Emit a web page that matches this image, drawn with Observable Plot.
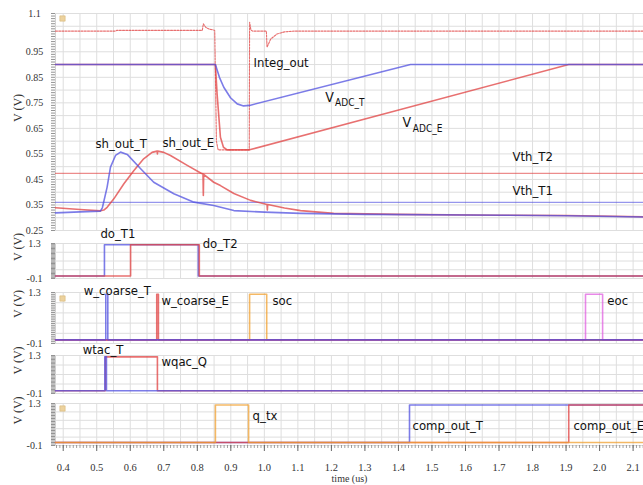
<!DOCTYPE html>
<html>
<head>
<meta charset="utf-8">
<script src="https://cdn.jsdelivr.net/npm/d3@7"></script>
<script src="https://cdn.jsdelivr.net/npm/@observablehq/plot@0.6"></script>
<style>
  body { margin: 0; background: #fff; }
  #chart { position: relative; width: 643px; height: 485px; overflow: hidden; background: #fff; }
  #chart svg { position: absolute; left: 0; }
</style>
</head>
<body>
<div id="chart"></div>
<script>
// ---- time axis (µs) ----
const xTicks = [0.4, 0.5, 0.6, 0.7, 0.8, 0.9, 1.0, 1.1, 1.2, 1.3, 1.4, 1.5, 1.6, 1.7, 1.8, 1.9, 2.0, 2.1];
const topTicks = [1.1, 0.95, 0.85, 0.75, 0.65, 0.55, 0.45, 0.35, 0.25];
const digitalTicks = [1.3, -0.1];

// ---- analog traces, [time µs, volts] ----
const vadcT = [[0.377,0.9],[0.854,0.9],[0.866,0.85],[0.879,0.811],[0.899,0.77],[0.919,0.746],[0.938,0.738],[0.956,0.74],[1.436,0.9],[2.131,0.9]];
const vadcE = [[0.377,0.9],[0.854,0.9],[0.859,0.785],[0.869,0.615],[0.878,0.576],[0.889,0.566],[0.956,0.566],[1.908,0.9],[2.131,0.9]];
const integOut = [[0.377,1.031],[0.555,1.031],[0.56,1.034],[0.815,1.034],[0.818,1.06],[0.825,1.046],[0.835,1.039],[0.85,1.035],[0.852,1.033],[0.857,0.6],[0.862,0.566],[0.955,0.566],[0.956,1.066],[0.96,1.035],[0.965,1.031],[1.006,1.031],[1.008,0.968],[1.019,1.0],[1.038,1.02],[1.06,1.028],[1.09,1.031],[2.131,1.031]];
const shOutT = [[0.377,0.319],[0.45,0.323],[0.511,0.326],[0.517,0.34],[0.531,0.42],[0.541,0.498],[0.556,0.544],[0.571,0.557],[0.591,0.548],[0.631,0.492],[0.67,0.439],[0.73,0.394],[0.79,0.361],[0.849,0.348],[0.909,0.328],[1.0,0.322],[1.108,0.317],[1.3,0.313],[1.6,0.311],[1.9,0.308],[2.131,0.303]];
const shOutE = [[0.377,0.339],[0.45,0.332],[0.511,0.327],[0.521,0.33],[0.531,0.341],[0.551,0.374],[0.581,0.433],[0.611,0.485],[0.64,0.531],[0.665,0.556],[0.68,0.561],[0.681,0.55],[0.682,0.561],[0.7,0.556],[0.72,0.544],[0.77,0.505],[0.81,0.475],[0.817,0.471],[0.818,0.387],[0.819,0.47],[0.849,0.439],[0.869,0.426],[0.909,0.395],[0.959,0.368],[1.008,0.352],[1.009,0.33],[1.01,0.352],[1.06,0.338],[1.108,0.328],[1.207,0.317],[1.4,0.313],[1.7,0.31],[1.9,0.309],[2.131,0.304]];
const vthT2 = 0.474;
const vthT1 = 0.36;

// ---- digital signals: edge times (µs), starting low ----
const logicLow = 0, logicHigh = 1.25;
const doT1 = [0.523, 0.803];
const doT2 = [0.601, 0.806];
const wCoarseT = [0.527, 0.533];
const wCoarseE = [0.679, 0.684];
const soc = [0.956, 1.007];
const eoc = [1.958, 2.009];
const wtacT = [0.524, 0.529];
const wqacQ = [0.526, 0.681];
const qTx = [0.854, 0.953];
const compOutT = [1.433];
const compOutE = [1.908];

const X0 = 0.377, X1 = 2.131;
const BLUE = "#5050e0", RED = "#e04040", ORANGE = "#f0a030", MAGENTA = "#e060e0";
const SANS = "'Liberation Sans Narrow', 'DejaVu Sans Condensed', 'Liberation Sans', Arial, sans-serif";
const SERIF = "'Liberation Serif', 'Times New Roman', serif";

const pts = a => a.map(([t, v]) => ({t, v}));
function steps(edges) {
  const out = [{t: X0, v: logicLow}];
  let level = logicLow;
  for (const e of edges) { level = level === logicLow ? logicHigh : logicLow; out.push({t: e, v: level}); }
  out.push({t: X1, v: level});
  return out;
}

const gridX = d3.range(8, 43).map(i => i * 0.05);

function panel({top, height, marginTop, marginBottom, yDomain, ticks, gridY, minorY, lock, marks, bottomAxis}) {
  const base = [
    Plot.ruleX(gridX, {stroke: "#dedede", strokeWidth: 1}),
    Plot.ruleX([X0], {stroke: "#d0d0d0"}),
    Plot.ruleY(gridY, {stroke: "#dedede", strokeWidth: 1}),
    Plot.axisY(minorY, {anchor: "left", tickSize: 4, tickFormat: () => "", stroke: "#777", strokeWidth: 0.8}),
    Plot.text(ticks, {y: d => d, text: d => String(d), frameAnchor: "left", dx: -21, textAnchor: "middle", fontSize: 10, fontFamily: SERIF, fill: "#333"}),
    Plot.text(["V (V)"], {frameAnchor: "left", dx: -37, rotate: -90, fontSize: 12, fontFamily: SERIF, fill: "#333"})
  ];
  if (lock != null) base.push(Plot.dot([0], {frameAnchor: "top-left", dx: 7, dy: lock, symbol: "square", r: 3, fill: "#ecd29e", stroke: "#d8b878", strokeWidth: 0.6}));
  const svg = Plot.plot({
    width: 643, height, marginLeft: 55, marginRight: 0, marginTop, marginBottom,
    x: {domain: [X0, X1], label: null},
    y: {domain: yDomain, label: null},
    style: {background: "transparent", overflow: "visible"},
    marks: [...base, ...marks, ...(bottomAxis || [Plot.axisX({ticks: []})])]
  });
  svg.style.top = top + "px";
  document.getElementById("chart").appendChild(svg);
}

const lineOpts = (stroke, extra = {}) => ({x: "t", y: "v", stroke, strokeWidth: 1.6, strokeOpacity: 0.75, ...extra});
const stepOpts = (stroke) => ({x: "t", y: "v", stroke, strokeWidth: 1.6, strokeOpacity: 0.75, curve: "step-after"});
const label = (text, t, v, size = 13) => Plot.text([text], {x: () => t, y: () => v, text: d => d, textAnchor: "start", fontSize: size, fontFamily: SANS, fill: "#111"});

// ---- panel 1: analog waveforms ----
panel({
  top: 0, height: 232, marginTop: 13, marginBottom: 2, yDomain: [0.25, 1.1],
  ticks: topTicks, gridY: d3.range(5, 23).map(i => i * 0.05), minorY: d3.range(25, 111).map(i => i / 100), lock: 5,
  marks: [
    Plot.ruleY([vthT2], {stroke: RED, strokeWidth: 1.2, strokeOpacity: 0.6}),
    Plot.ruleY([vthT1], {stroke: BLUE, strokeWidth: 1.2, strokeOpacity: 0.6}),
    Plot.line(pts(integOut), lineOpts(RED, {strokeWidth: 1.1, strokeDasharray: "2,1.2"})),
    Plot.line(pts(vadcE), lineOpts(RED)),
    Plot.line(pts(shOutE), lineOpts(RED)),
    Plot.line(pts(vadcT), lineOpts(BLUE)),
    Plot.line(pts(shOutT), lineOpts(BLUE)),
    label("Integ_out", 0.968, 0.908),
    label("sh_out_T", 0.496, 0.591),
    label("sh_out_E", 0.696, 0.595),
    label("Vth_T2", 1.74, 0.54),
    label("Vth_T1", 1.74, 0.407),
    label("V", 1.182, 0.771, 14),
    label("ADC_T", 1.211, 0.751, 10),
    label("V", 1.412, 0.673, 14),
    label("ADC_E", 1.443, 0.65, 10)
  ]
});

const gridA = [-0.1, 0.25, 0.6, 0.95, 1.3];
const gridB = [-0.1, 0.18, 0.46, 0.74, 1.02, 1.3];
const minorLogic = d3.range(-10, 131, 5).map(i => i / 100);

// ---- panel 2: comparator outputs ----
panel({
  top: 238, height: 43, marginTop: 5, marginBottom: 3, yDomain: [-0.1, 1.3],
  ticks: digitalTicks, gridY: gridA, minorY: minorLogic, lock: null,
  marks: [
    Plot.line(steps(doT1), stepOpts(BLUE)),
    Plot.line(steps(doT2), stepOpts(RED)),
    label("do_T1", 0.511, 1.7),
    label("do_T2", 0.816, 1.3)
  ]
});

// ---- panel 3: coarse windows, start / end of conversion ----
panel({
  top: 287, height: 59, marginTop: 5, marginBottom: 3, yDomain: [-0.1, 1.3],
  ticks: digitalTicks, gridY: gridB, minorY: minorLogic, lock: 6,
  marks: [
    Plot.line(steps(soc), stepOpts(ORANGE)),
    Plot.line(steps(eoc), stepOpts(MAGENTA)),
    Plot.line(steps(wCoarseE), stepOpts(RED)),
    Plot.line(steps(wCoarseT), stepOpts(BLUE)),
    label("w_coarse_T", 0.461, 1.355),
    label("w_coarse_E", 0.693, 1.08),
    label("soc", 1.024, 1.08),
    label("eoc", 2.023, 1.08)
  ]
});

// ---- panel 4: TAC / QAC windows ----
panel({
  top: 350, height: 46, marginTop: 5, marginBottom: 3, yDomain: [-0.1, 1.3],
  ticks: digitalTicks, gridY: gridA, minorY: minorLogic, lock: null,
  marks: [
    Plot.line(steps(wqacQ), stepOpts(RED)),
    Plot.line(steps(wtacT), stepOpts(BLUE)),
    label("wtac_T", 0.458, 1.52),
    label("wqac_Q", 0.693, 1.08)
  ]
});

// ---- panel 5: charge transfer and ADC comparator outputs, time axis ----
panel({
  top: 398, height: 87, marginTop: 5, marginBottom: 40, yDomain: [-0.1, 1.3],
  ticks: digitalTicks, gridY: gridB, minorY: minorLogic, lock: 5,
  marks: [
    Plot.line(steps(compOutT), stepOpts(BLUE)),
    Plot.line(steps(compOutE), stepOpts(RED)),
    Plot.line(steps(qTx), stepOpts(ORANGE)),
    label("q_tx", 0.965, 0.9),
    label("comp_out_T", 1.442, 0.567),
    label("comp_out_E", 1.922, 0.567),
    Plot.text(["time (us)"], {frameAnchor: "bottom", dy: 36, fontSize: 10, fontFamily: SERIF, fill: "#333"})
  ],
  bottomAxis: [
    Plot.axisX(d3.range(38, 214).map(i => i / 100), {anchor: "bottom", tickSize: 3, tickFormat: () => "", stroke: "#777", strokeWidth: 0.7, label: null}),
    Plot.axisX(xTicks, {anchor: "bottom", tickSize: 6, tickPadding: 12, tickFormat: d3.format(".1f"), fontSize: 10.5, fontFamily: SERIF, fill: "#333", stroke: "#666", label: null})
  ]
});
</script>
</body>
</html>
